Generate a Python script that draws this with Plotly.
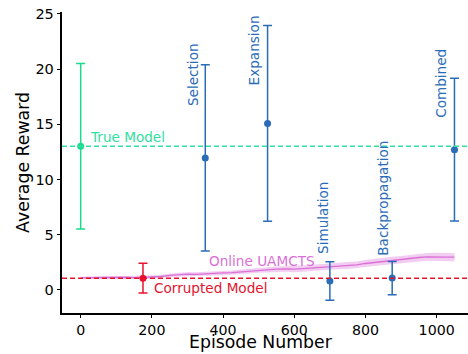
import plotly.graph_objects as go

# ---- data ----
method_names = ["Selection", "Expansion", "Simulation", "Backpropagation", "Combined"]
method_episodes = [350, 525, 700, 875, 1050]
method_means = [11.95, 15.08, 0.79, 1.06, 12.70]
method_errs = [8.45, 8.87, 1.75, 1.51, 6.47]
method_label_y = [16.45, 18.3, 3.05, 2.87, 15.4]
method_label_shift = [-12, -14, -7, -10, -13]

true_episode = [0]
true_mean = [13.0]
true_err = [7.5]

corrupt_episode = [175]
corrupt_mean = [1.05]
corrupt_err = [1.35]

online_episodes = [0, 25, 50, 75, 100, 125, 150, 175, 200, 225, 250, 275, 300, 325, 350,
                   375, 400, 425, 450, 475, 500, 525, 550, 575, 600, 625, 650, 675, 700,
                   725, 750, 775, 800, 825, 850, 875, 900, 925, 950, 975, 1000, 1025, 1050]
online_mean = [1.08, 1.10, 1.12, 1.14, 1.12, 1.13, 1.10, 1.12, 1.15, 1.20, 1.30, 1.38, 1.42,
               1.40, 1.46, 1.48, 1.52, 1.55, 1.62, 1.70, 1.78, 1.80, 1.86, 1.88, 1.86, 1.92,
               1.98, 2.05, 2.12, 2.15, 2.20, 2.25, 2.38, 2.48, 2.58, 2.66, 2.72, 2.82, 2.92,
               2.98, 3.00, 2.96, 2.95]
online_std = [0.10, 0.12, 0.12, 0.13, 0.13, 0.13, 0.14, 0.14, 0.15, 0.15, 0.16, 0.17, 0.17,
              0.18, 0.18, 0.19, 0.20, 0.20, 0.21, 0.22, 0.23, 0.24, 0.25, 0.26, 0.27, 0.28,
              0.28, 0.29, 0.30, 0.30, 0.31, 0.31, 0.32, 0.33, 0.33, 0.34, 0.34, 0.35, 0.35,
              0.35, 0.36, 0.36, 0.36]

x_ticks = [0, 200, 400, 600, 800, 1000]
y_ticks = [0, 5, 10, 15, 20, 25]

GREEN = "#19db8b"
GREEN_TXT = "#2fe09f"
RED = "#e5132e"
BLUE = "#2b6cb8"
ORCHID = "#da70d6"
FONT = "DejaVu Sans"
LBL = 13.6

fig = go.Figure()

# Online UAMCTS band + line
upper = [m + s for m, s in zip(online_mean, online_std)]
lower = [m - s for m, s in zip(online_mean, online_std)]
fig.add_trace(go.Scatter(x=online_episodes + online_episodes[::-1], y=upper + lower[::-1],
                         fill="toself", fillcolor="rgba(218,112,214,0.35)",
                         line=dict(width=0), hoverinfo="skip", showlegend=False))
fig.add_trace(go.Scatter(x=online_episodes, y=online_mean, mode="lines",
                         line=dict(color=ORCHID, width=1.3), showlegend=False))

# horizontal reference lines
fig.add_shape(type="line", xref="paper", x0=0, x1=1, y0=true_mean[0], y1=true_mean[0],
              line=dict(color=GREEN_TXT, width=1.5, dash="5px,3px"))
fig.add_shape(type="line", xref="paper", x0=0, x1=1, y0=corrupt_mean[0], y1=corrupt_mean[0],
              line=dict(color=RED, width=1.5, dash="5px,3px"))

# points with error bars
def add_err(x, y, e, color):
    fig.add_trace(go.Scatter(x=x, y=y, mode="markers",
                             marker=dict(color=color, size=7),
                             error_y=dict(type="data", array=e, color=color,
                                          thickness=1.5, width=4.5),
                             showlegend=False))

add_err(true_episode, true_mean, true_err, GREEN)
add_err(corrupt_episode, corrupt_mean, corrupt_err, RED)
add_err(method_episodes, method_means, method_errs, BLUE)

# labels
for name, xe, ly, sh in zip(method_names, method_episodes, method_label_y, method_label_shift):
    fig.add_annotation(x=xe, y=ly, text=name, textangle=-90, showarrow=False,
                       xanchor="center", yanchor="bottom", xshift=sh,
                       font=dict(family=FONT, size=LBL, color=BLUE))

fig.add_annotation(x=20, y=13.85, text="True Model", showarrow=False, xanchor="left",
                   yanchor="middle", font=dict(family=FONT, size=LBL, color=GREEN_TXT))
fig.add_annotation(x=200, y=0.15, text="Corrupted Model", showarrow=False, xanchor="left",
                   yanchor="middle", font=dict(family=FONT, size=LBL, color=RED))
fig.add_annotation(x=355, y=2.6, text="Online UAMCTS", showarrow=False, xanchor="left",
                   yanchor="middle", font=dict(family=FONT, size=LBL, color=ORCHID))

# x-axis title as annotation (bottom-anchored at the figure edge)
fig.add_annotation(xref="paper", yref="paper", x=0.49, y=0, yshift=-40,
                   text="Episode Number", showarrow=False, xanchor="center", yanchor="bottom",
                   borderpad=0, font=dict(family=FONT, size=17.3, color="black"))

fig.update_layout(
    width=468, height=354,
    margin=dict(l=62, r=0, t=12, b=41),
    plot_bgcolor="white", paper_bgcolor="white",
    font=dict(family=FONT, color="black"),
    xaxis=dict(range=[-52.5, 1088], tickvals=x_ticks, showgrid=False, zeroline=False,
               showline=True, linecolor="black", linewidth=1.5, ticks="outside",
               ticklen=3.5, tickwidth=1.2, tickcolor="black",
               tickfont=dict(size=14.2, family=FONT)),
    yaxis=dict(range=[-2.11, 25.18], tickvals=y_ticks, showgrid=False, zeroline=False,
               showline=True, linecolor="black", linewidth=1.5, ticks="outside",
               ticklen=3.5, tickwidth=1.2, tickcolor="black",
               tickfont=dict(size=14.5, family=FONT),
               title=dict(text="Average Reward", font=dict(size=17.3, family=FONT), standoff=1)),
)

fig.write_html("out.html")
